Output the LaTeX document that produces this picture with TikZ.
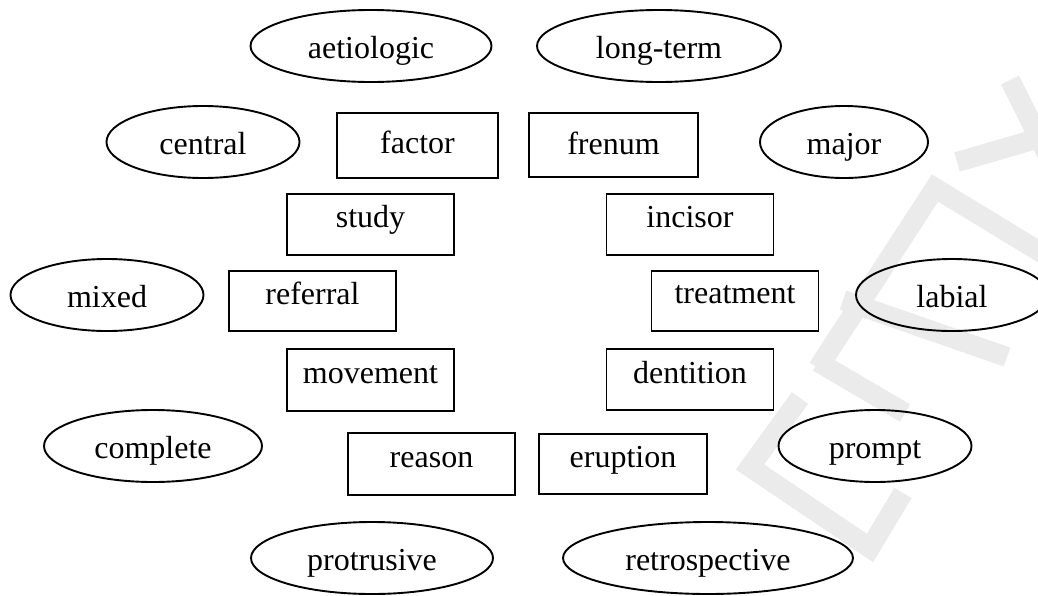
\documentclass[tikz,border=0pt]{standalone}
\usepackage{fontspec}
\setmainfont{Liberation Serif}
\usetikzlibrary{shapes.geometric}
\begin{document}
\begin{tikzpicture}[x=0.5pt,y=-0.5pt,
  font=\fontsize{16pt}{19pt}\selectfont,
  oval/.style={ellipse,draw,line width=0.95pt,inner sep=0pt,minimum height=36pt,
               text height=12pt,text depth=0pt},
  term/.style={rectangle,draw,line width=0.95pt,inner sep=0pt,minimum width=83.5pt,
               text height=16.5pt,text depth=14pt},
  wmark/.style={draw=black!8,line width=10pt,line join=miter,line cap=butt}
]
% canvas
\clip (0,0) rectangle (1038,595);
\fill[white] (0,0) rectangle (1038,595);

% faint watermark strokes
\draw[wmark] (800,398) -- (750,467) -- (870,548) -- (903,493);
\draw[wmark] (818,362) -- (905,413);
\draw[wmark] (818,368) -- (935,188) -- (1050,258);
\draw[wmark] (843,300) -- (1007,357);
\draw[wmark] (957,162) -- (1050,135);
\draw[wmark] (1010,80) -- (1050,160);

% ovals
\node[oval,minimum width=120.5pt] (aetiologic)    at (371,46)  {aetiologic};
\node[oval,minimum width=122pt]   (longterm)      at (659,46)  {long-term};
\node[oval,minimum width=96.5pt]  (central)       at (203,142) {central};
\node[oval,minimum width=84pt]    (major)         at (844,142) {major};
\node[oval,minimum width=96.5pt]  (mixed)         at (107,295) {mixed};
\node[oval,minimum width=96pt]    (labial)        at (952,295) {labial};
\node[oval,minimum width=109pt]   (complete)      at (153,446) {complete};
\node[oval,minimum width=96.5pt]  (prompt)        at (875,446) {prompt};
\node[oval,minimum width=121pt]   (protrusive)    at (372,558) {protrusive};
\node[oval,minimum width=145pt]   (retrospective) at (708,558) {retrospective};

% boxes
\node[term,minimum width=80.5pt,text height=20pt,text depth=12.5pt] (factor) at (417.5,145.5) {factor};
\node[term,minimum width=84.5pt,text height=20.5pt,text depth=11.5pt] (frenum) at (613.5,145) {frenum};
\node[term] (study)     at (370.5,224.5) {study};
\node[term] (incisor)   at (690,224.5)   {incisor};
\node[term,text depth=13.5pt] (referral)  at (312.5,301) {referral};
\node[term,text height=16pt] (treatment) at (735,301) {treatment};
\node[term,text height=17pt] (movement)  at (370.5,380) {movement};
\node[term,text height=17pt,text depth=13.5pt] (dentition) at (690,379.5) {dentition};
\node[term,text height=17pt] (reason)    at (431.5,464) {reason};
\node[term,text depth=13.5pt,minimum width=84pt] (eruption) at (623,464) {eruption};
\end{tikzpicture}
\end{document}
